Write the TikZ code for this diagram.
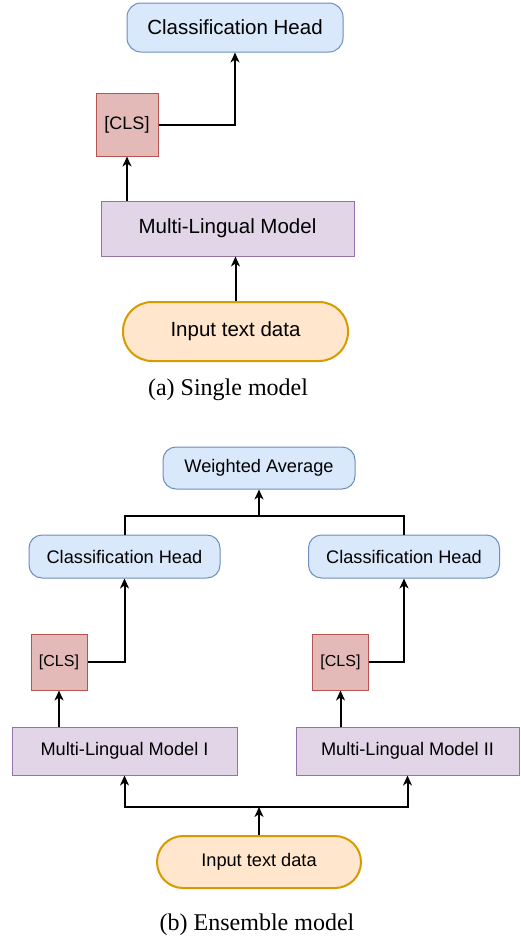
\documentclass[tikz,border=0pt]{standalone}
\usepackage{fontspec}
\setmainfont{Liberation Sans}
\newfontfamily\capfont{Liberation Serif}
\usepackage{tikz}
\usetikzlibrary{calc,positioning,arrows.meta}
\definecolor{headfill}{HTML}{DAE8FC}
\definecolor{headdraw}{HTML}{6C8EBF}
\definecolor{clsfill}{RGB}{228,186,184}
\definecolor{clsdraw}{HTML}{B85450}
\definecolor{modelfill}{HTML}{E1D5E7}
\definecolor{modeldraw}{HTML}{9673A6}
\definecolor{datafill}{HTML}{FFE6CC}
\definecolor{datadraw}{HTML}{D79B00}
\tikzstyle{head}      = [rectangle, rounded corners=14pt, draw=headdraw, fill=headfill, line width=1pt, inner sep=0pt]
\tikzstyle{cls}       = [rectangle, draw=clsdraw, fill=clsfill, line width=1pt, inner sep=0pt]
\tikzstyle{model}     = [rectangle, draw=modeldraw, fill=modelfill, line width=1pt, inner sep=0pt]
\tikzstyle{data}      = [rectangle, draw=datadraw, fill=datafill, line width=2pt, inner sep=0pt]
\tikzstyle{big}       = [font=\fontsize{20.5}{24}\selectfont]
\tikzstyle{small}     = [font=\fontsize{18.2}{22}\selectfont]
\tikzstyle{caption}   = [font=\capfont\fontsize{24}{28}\selectfont]
\tikzstyle{arrow}     = [line width=2pt,-{Stealth[length=10pt,width=9pt,inset=3pt]}]
\tikzstyle{line}      = [line width=2pt]

\begin{document}
\begin{tikzpicture}[x=1pt,y=-1pt]
		\useasboundingbox (0,0) rectangle (520,938);
		% single model
		\node[head,big,minimum width=216pt,minimum height=49pt] (head) at (235,27.5) {Classification Head};
		\node[cls,font=\fontsize{18}{22}\selectfont,minimum width=62pt,minimum height=63pt] (cls) at (127,124.5) {[CLS]};
		\node[model,big,minimum width=253pt,minimum height=55pt] (mlm) at (227.5,228.5) {Multi-Lingual Model};
		\node[data,big,rounded corners=29pt,minimum width=225pt,minimum height=59pt] (inp) at (235.5,331.5) {Input text data};
		\node[caption] (capa) at (228,390) {(a) Single model};
		\draw[arrow] (inp.north) -- (inp.north |- mlm.south);
		\draw[arrow] (cls.south |- mlm.north) -- (cls.south);
		\draw[arrow] (cls.east) -| (head.south);
		% ensemble model
		\node[head,small,rounded corners=13pt,minimum width=192pt,minimum height=42pt] (avg) at (259,468) {Weighted Average};
		\node[head,small,rounded corners=13pt,minimum width=191pt,minimum height=43pt] (headA) at (124.5,556.5) {Classification Head};
		\node[head,small,rounded corners=13pt,minimum width=191pt,minimum height=43pt] (headB) at (404,556.5) {Classification Head};
		\node[cls,font=\fontsize{16}{20}\selectfont,minimum width=56pt,minimum height=56pt] (clsA) at (59,662) {[CLS]};
		\node[cls,font=\fontsize{16}{20}\selectfont,minimum width=56pt,minimum height=56pt] (clsB) at (340.5,662) {[CLS]};
		\node[model,small,minimum width=225pt,minimum height=48pt] (mlmA) at (124.5,751) {Multi-Lingual Model I};
		\node[model,small,minimum width=223pt,minimum height=48pt] (mlmB) at (407.5,751) {Multi-Lingual Model II};
		\node[data,small,rounded corners=26pt,minimum width=204pt,minimum height=52pt] (inpB) at (259,862) {Input text data};
		\node[caption] (capb) at (257,925) {(b) Ensemble model};
		\coordinate (join) at (259,516);
		\coordinate (split) at (259,807);
		\draw[arrow] (inpB.north) -- (split);
		\draw[arrow] (split) -| (mlmA.south);
		\draw[arrow] (split) -| (mlmB.south);
		\draw[arrow] (clsA.south |- mlmA.north) -- (clsA.south);
		\draw[arrow] (clsB.south |- mlmB.north) -- (clsB.south);
		\draw[arrow] (clsA.east) -| (headA.south);
		\draw[arrow] (clsB.east) -| (headB.south);
		\draw[line] (headA.north) |- (join) -| (headB.north);
		\draw[arrow] (join) -- (avg.south);
\end{tikzpicture}
\end{document}
